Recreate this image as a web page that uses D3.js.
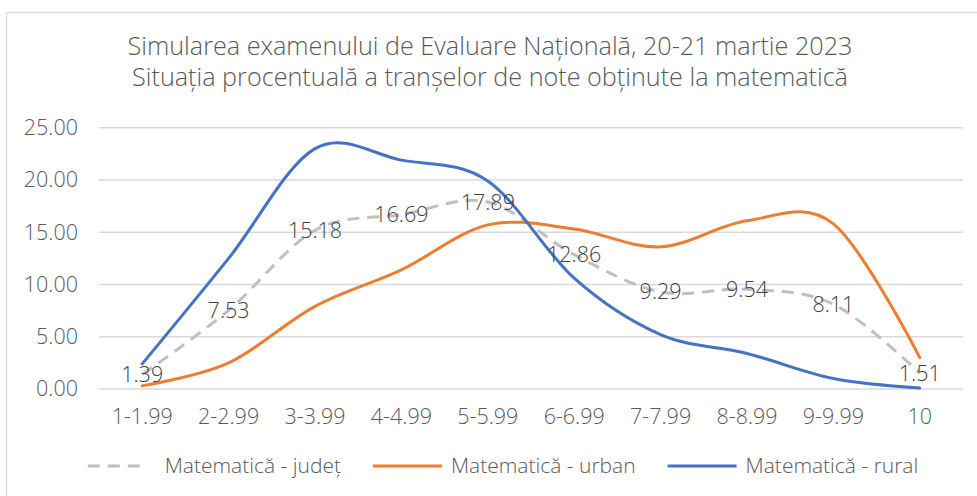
<!DOCTYPE html>
<html>
<head>
<meta charset="utf-8">
<script src="https://cdn.jsdelivr.net/npm/d3@7"></script>
<style>
  body { margin: 0; background: #fff; }
  text { font-family: "Open Sans", Lato, sans-serif; }
</style>
</head>
<body>
<div id="chart"></div>
<script>
// data
var categories = ["1-1.99", "2-2.99", "3-3.99", "4-4.99", "5-5.99", "6-6.99", "7-7.99", "8-8.99", "9-9.99", "10"];
var judet = [1.39, 7.53, 15.18, 16.69, 17.89, 12.86, 9.29, 9.54, 8.11, 1.51];
var urban = [0.3, 2.5, 7.9, 11.4, 15.7, 15.3, 13.6, 16.1, 15.8, 3.0];
var rural = [2.4, 12.5, 23.0, 21.9, 19.9, 10.6, 5.2, 3.4, 1.0, 0.1];
var yTicks = [0, 5, 10, 15, 20, 25];
var titleLines = [
  "Simularea examenului de Evaluare Națională, 20-21 martie 2023",
  "Situația procentuală a tranșelor de note obținute la matematică"
];

var series = [
  { name: "Matematică - județ", values: judet, color: "#BFBFBF", dash: "12,8", labels: true },
  { name: "Matematică - urban", values: urban, color: "#ED7D31", dash: null, labels: false },
  { name: "Matematică - rural", values: rural, color: "#4472C4", dash: null, labels: false }
];

var W = 977, H = 496;
var plot = { left: 99, right: 963, top: 127.7, bottom: 389 };
var textColor = "#595959";

var svg = d3.select("#chart").append("svg")
  .attr("width", W)
  .attr("height", H);

// chart border (right/bottom run off the picture)
svg.append("rect")
  .attr("x", 6.5).attr("y", 12.5)
  .attr("width", W + 10).attr("height", H + 10)
  .attr("fill", "#fff")
  .attr("stroke", "#D9D9D9")
  .attr("stroke-width", 1.3);

// title
svg.append("g").selectAll("text")
  .data(titleLines)
  .join("text")
  .attr("x", 490)
  .attr("y", (d, i) => 55 + i * 31)
  .attr("text-anchor", "middle")
  .attr("font-size", 25.2)
  .attr("font-weight", 300)
  .attr("fill", textColor)
  .text(d => d);

// scales
var x = d3.scaleBand().domain(categories).range([plot.left, plot.right]);
var y = d3.scaleLinear().domain([0, 25]).range([plot.bottom, plot.top]);

// gridlines
svg.append("g")
  .selectAll("line")
  .data(yTicks)
  .join("line")
  .attr("x1", plot.left).attr("x2", plot.right)
  .attr("y1", d => y(d)).attr("y2", d => y(d))
  .attr("stroke", "#D9D9D9")
  .attr("stroke-width", 1.5);

// axes
var yAxis = d3.axisLeft(y).tickValues(yTicks).tickFormat(d3.format(".2f")).tickSize(0).tickPadding(21);
var gy = svg.append("g").attr("transform", `translate(${plot.left},0)`).call(yAxis);
gy.select(".domain").remove();
gy.selectAll("text").attr("font-size", 21.5).attr("font-weight", 300).attr("fill", textColor).attr("font-family", "Open Sans, sans-serif");

var xAxis = d3.axisBottom(x).tickSize(0).tickPadding(0);
var gx = svg.append("g").attr("transform", `translate(0,${plot.bottom})`).call(xAxis);
gx.select(".domain").remove();
gx.selectAll("text")
  .attr("y", 27).attr("dy", "0.35em")
  .attr("font-size", 21.5).attr("font-weight", 300).attr("fill", textColor).attr("font-family", "Open Sans, sans-serif");

// lines
var line = d3.line()
  .x((d, i) => x(categories[i]) + x.bandwidth() / 2)
  .y(d => y(d))
  .curve(d3.curveCatmullRom.alpha(0));

svg.append("g")
  .selectAll("path")
  .data(series)
  .join("path")
  .attr("d", d => line(d.values))
  .attr("fill", "none")
  .attr("stroke", d => d.color)
  .attr("stroke-width", 3)
  .attr("stroke-dasharray", d => d.dash)
  .attr("stroke-linecap", d => d.dash ? "butt" : "round");

// data labels for județ
svg.append("g")
  .selectAll("text")
  .data(judet)
  .join("text")
  .attr("x", (d, i) => x(categories[i]) + x.bandwidth() / 2)
  .attr("y", d => y(d))
  .attr("dy", "0.35em")
  .attr("text-anchor", "middle")
  .attr("font-size", 21.5)
  .attr("font-weight", 300)
  .attr("fill", "#404040")
  .text(d => d.toFixed(2));

// legend
var legend = svg.append("g");
var symLen = 69, symGap = 9, itemGap = 32;
var items = legend.selectAll("g")
  .data(series)
  .join("g");
items.append("line")
  .attr("x1", 0).attr("x2", d => d.dash ? 58 : symLen)
  .attr("y1", 0).attr("y2", 0)
  .attr("stroke", d => d.color)
  .attr("stroke-width", 3)
  .attr("stroke-dasharray", d => d.dash);
items.append("text")
  .attr("x", d => d.dash ? 77 : symLen + symGap)
  .attr("dy", "0.35em")
  .attr("font-size", 21)
  .attr("font-weight", 300)
  .attr("fill", textColor)
  .text(d => d.name);

var offs = [], total = 0;
items.each(function (d) {
  offs.push(total);
  var t = d3.select(this).select("text");
  total += +t.attr("x") + t.node().getComputedTextLength() + itemGap;
});
total -= itemGap;
var legendStart = 503 - total / 2;
items.attr("transform", (d, i) => `translate(${legendStart + offs[i]},466)`);
</script>
</body>
</html>
